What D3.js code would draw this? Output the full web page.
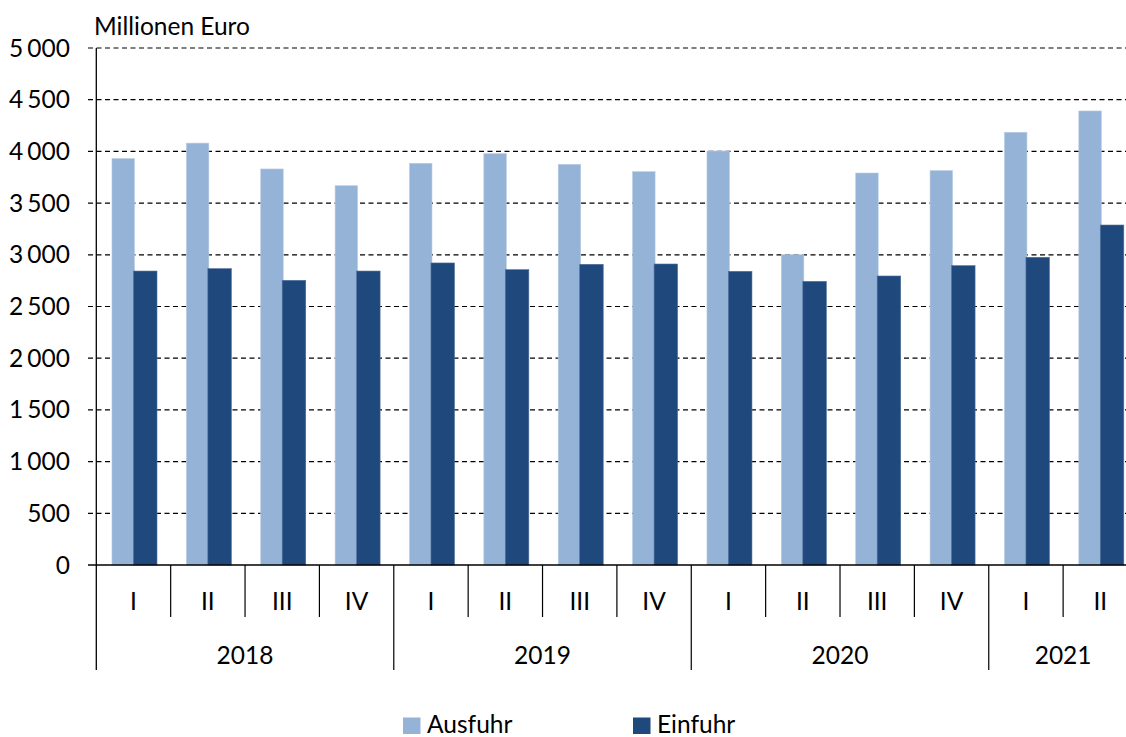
<!DOCTYPE html>
<html><head><meta charset="utf-8">
<script src="https://cdn.jsdelivr.net/npm/d3@7"></script>
<style>
body{margin:0;background:#fff;}
text{font-family:"Lato","Open Sans",sans-serif;fill:#000;}
</style></head>
<body><svg id="c" width="1126" height="737"></svg>
<script>
const years = ["2018","2019","2020","2021"];
const quarters = [["I","II","III","IV"],["I","II","III","IV"],["I","II","III","IV"],["I","II"]];
const ausfuhr = [3930,4080,3830,3668, 3885,3978,3875,3804, 4004,3001,3791,3814, 4185,4391];
const einfuhr = [2843,2866,2753,2843, 2921,2856,2908,2911, 2840,2743,2795,2895, 2976,3288];
const seriesNames = ["Ausfuhr","Einfuhr"];
const colors = ["#95b3d7","#1f497d"];
const yTicks = [0,500,1000,1500,2000,2500,3000,3500,4000,4500,5000];
const yLabel = "Millionen Euro";

const cats = [];
quarters.forEach((qs,i)=>qs.forEach(q=>cats.push(years[i]+"-"+q)));

const svg = d3.select("#c");
const L=96.3, R=1137.5, T=48, B=565;
const x = d3.scaleBand().domain(cats).range([L,R]).paddingInner(0).paddingOuter(0);
const y = d3.scaleLinear().domain([0,5000]).range([B,T]);
const fmt = v => d3.format(",")(v).replace(/,/g,"\u00a0");
const FS = "24.5px";

// gridlines
svg.append("g").selectAll("line").data(yTicks.filter(t=>t>0)).join("line")
  .attr("x1",88).attr("x2",1126).attr("y1",d=>y(d)).attr("y2",d=>y(d))
  .attr("stroke","#000").attr("stroke-width",1.2).attr("stroke-dasharray","5,3.5");

// y axis labels
svg.append("g").selectAll("text").data(yTicks).join("text")
  .attr("x",70).attr("y",d=>y(d)).attr("dy","0.35em").attr("text-anchor","end")
  .style("font-size",FS).style("word-spacing","-2px").text(fmt);

svg.append("text").attr("x",94).attr("y",35).style("font-size",FS).text(yLabel);

// bars
const bw = 22.5;
const sub = d3.scaleOrdinal().domain(seriesNames).range([-bw+1, -1]);
[ausfuhr,einfuhr].forEach((arr,si)=>{
  svg.append("g").selectAll("rect").data(arr).join("rect")
    .attr("x",(d,i)=>x(cats[i])+x.bandwidth()/2+sub(seriesNames[si]) + (si===1?1:0))
    .attr("width",bw+(si===1?1:0))
    .attr("y",d=>y(d)).attr("height",d=>y(0)-y(d))
    .attr("fill",colors[si])
    .attr("stroke",si===0?"#b8cce4":"#4f6f99").attr("stroke-width",0.6);
});

// axes lines
svg.append("line").attr("x1",88).attr("x2",1126).attr("y1",B).attr("y2",B).attr("stroke","#000").attr("stroke-width",1.3);
svg.append("line").attr("x1",L).attr("x2",L).attr("y1",T).attr("y2",670).attr("stroke","#000").attr("stroke-width",1.3);

// quarter separators & labels
cats.forEach((c,i)=>{
  const q = c.split("-")[1];
  svg.append("text").attr("x",x(c)+x.bandwidth()/2).attr("y",601).attr("dy","0.35em")
    .attr("text-anchor","middle").style("font-size",FS).text(q);
  if(i>0){
    const isYear = q==="I";
    svg.append("line").attr("x1",x(c)).attr("x2",x(c)).attr("y1",B).attr("y2",isYear?670:617)
      .attr("stroke","#000").attr("stroke-width",1.2);
  }
});
// year labels
let idx=0;
years.forEach((yv,i)=>{
  const n=quarters[i].length;
  const x0=x(cats[idx]), x1=x(cats[idx+n-1])+x.bandwidth();
  svg.append("text").attr("x",(x0+x1)/2).attr("y",655).attr("dy","0.35em")
    .attr("text-anchor","middle").style("font-size",FS).text(yv);
  idx+=n;
});

// legend
const legX=[403,633];
seriesNames.forEach((s,i)=>{
  svg.append("rect").attr("x",legX[i]).attr("y",717.5).attr("width",17.5).attr("height",16.5).attr("fill",colors[i]);
  svg.append("text").attr("x",legX[i]+24).attr("y",733).style("font-size",FS).text(s);
});
</script></body></html>
